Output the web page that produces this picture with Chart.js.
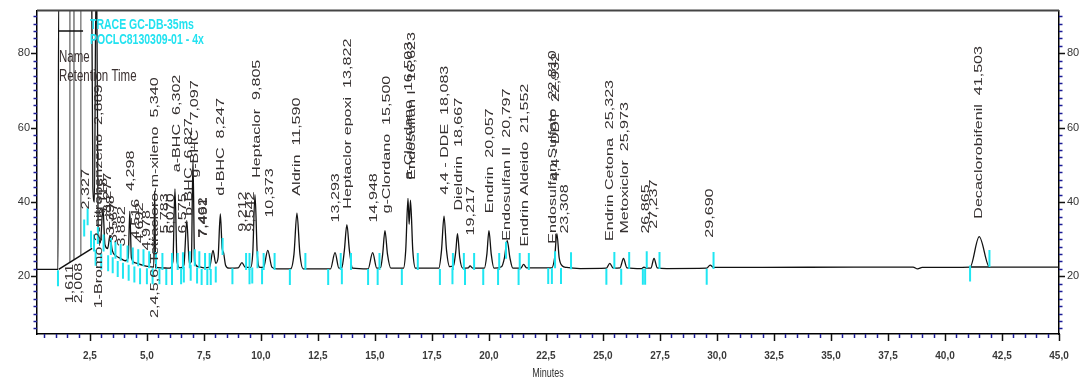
<!DOCTYPE html>
<html>
<head>
<meta charset="utf-8">
<script src="https://cdn.jsdelivr.net/npm/chart.js@4.4.1/dist/chart.umd.min.js"></script>
<style>
  html, body { margin: 0; padding: 0; background: #fff; }
  #wrap { width: 1084px; height: 377px; }
</style>
</head>
<body>
<div id="wrap"><canvas id="chromatogram"></canvas></div>
<script>
// axis ticks
const xTickValues = [2.5, 5, 7.5, 10, 12.5, 15, 17.5, 20, 22.5, 25, 27.5, 30, 32.5, 35, 37.5, 40, 42.5, 45];
const yTickValues = [20, 40, 60, 80];

// detector signal: [minutes, mV]
const tracePoints = [
  [0.18, 21.9], [1.10, 21.9], [1.13, 96], [2.58, 96], [2.63, 44], [2.70, 40], [2.76, 96], [2.80, 96],
  [2.86, 33], [2.96, 29], [3.07, 38.5], [3.16, 28.5], [3.28, 27.5], [3.38, 31], [3.48, 27], [3.65, 25.5],
  [3.85, 24.8], [4.05, 24.2], [4.18, 25], [4.25, 37.5], [4.32, 25], [4.5, 23.6], [4.8, 23], [5.1, 22.6],
  [5.30, 22.5], [5.34, 43], [5.38, 22.5], [5.6, 22.3], [6.0, 22.2], [6.14, 24], [6.23, 43.5], [6.32, 24],
  [6.45, 22.3], [6.62, 23], [6.75, 35], [6.86, 23.5], [6.95, 24], [7.02, 51.5], [7.09, 24], [7.25, 22.6],
  [7.5, 22.3], [7.75, 22.5], [7.9, 27], [8.02, 23.5], [8.12, 25], [8.22, 36.8], [8.30, 27.5], [8.36, 26.4],
  [8.45, 23], [8.6, 22.2], [9.0, 22.3], [9.17, 23.7], [9.3, 22.5], [9.55, 22.4], [9.64, 26], [9.74, 42],
  [9.84, 26], [9.95, 22.4], [10.12, 22.5], [10.3, 27], [10.48, 22.5], [10.7, 22], [11.3, 22], [11.45, 26],
  [11.58, 37], [11.71, 26], [11.85, 22], [13.05, 22], [13.25, 26.4], [13.42, 22.2], [13.55, 22.4], [13.66, 27],
  [13.77, 33.9], [13.88, 27], [14.02, 22.2], [14.7, 22], [14.9, 26.4], [15.08, 22.2], [15.25, 22.4], [15.34, 26],
  [15.44, 32.3], [15.55, 26], [15.7, 22.2], [16.25, 22.2], [16.35, 27], [16.45, 41], [16.5, 34], [16.56, 40.5],
  [16.66, 27], [16.78, 22.2], [17.8, 22.2], [17.92, 27], [18.03, 36.2], [18.14, 27], [18.28, 22.6], [18.45, 23],
  [18.55, 27], [18.62, 31.5], [18.72, 25], [18.85, 22.2], [19.1, 22.3], [19.17, 22.8], [19.3, 22.2], [19.8, 22.2],
  [19.91, 26], [20.0, 32.3], [20.1, 26], [20.22, 22.2], [20.55, 22.6], [20.68, 25], [20.8, 29.6], [20.92, 25],
  [21.05, 22.2], [21.4, 22.2], [21.52, 23.2], [21.65, 22.3], [22.75, 22.3], [22.88, 25], [22.98, 31.5], [23.08, 25],
  [23.22, 22.8], [23.4, 22.4], [24, 22.1], [25.15, 22.2], [25.3, 23.5], [25.45, 22.2], [25.75, 22.3], [25.9, 24.8],
  [26.05, 22.3], [26.7, 22.1], [26.8, 22.5], [26.9, 22.2], [27.1, 22.2], [27.24, 24.8], [27.38, 22.3], [27.8, 22.1],
  [29.55, 22.2], [29.7, 23], [29.85, 22.4], [32, 22.4], [36, 22.5], [38.6, 22.5], [38.8, 22.0], [39.0, 22.4],
  [41.1, 22.5], [41.5, 30.7], [41.95, 22.5], [45, 22.5]
];

// solvent front: clipped top, drop lines and the integration baseline
const solventTop = [[1.13, 86], [2.2, 86]];
const dropLines = [[1.62, 96], [1.62, 23.8], null, [1.80, 96], [1.80, 24.5], null, [2.10, 96], [2.10, 25.6]];
const solventBase = [[1.13, 21.9], [2.6, 27.5], null, [41.1, 22.5], [41.95, 22.5]];

// peak start (below) / end (above) markers: [minutes, centre]
const startMarks = [
  [1.1, 19.5], [2.75, 25], [3.0, 24], [3.3, 23.5], [3.5, 23], [3.72, 22], [3.95, 21.5], [4.2, 21], [4.45, 20.5],
  [4.7, 20], [5.0, 20], [5.25, 20], [5.55, 20], [5.85, 19.8], [6.1, 19.8], [6.5, 20], [6.62, 20.5], [6.92, 21],
  [7.2, 20.2], [7.4, 19.8], [7.65, 19.8], [7.8, 19.8], [8.02, 20.5], [8.75, 20], [9.5, 20], [9.62, 20.2],
  [10.05, 20], [11.27, 19.8], [12.95, 19.8], [13.55, 20], [14.7, 19.8], [15.12, 19.8], [16.18, 19.8],
  [17.85, 19.8], [18.4, 20], [18.95, 19.8], [19.75, 19.8], [20.4, 19.8], [21.3, 19.8], [22.6, 20.1],
  [22.76, 20.1], [23.16, 20.1], [25.15, 19.9], [25.8, 19.9], [26.75, 19.9], [26.85, 19.9], [29.55, 19.9], [41.1, 20.8]
];
const endMarks = [
  [2.25, 33], [2.4, 36], [2.55, 30], [2.68, 29], [2.85, 31], [3.1, 29], [3.42, 28], [3.62, 27], [3.85, 26.5],
  [4.15, 26], [4.38, 25.5], [4.62, 25], [4.85, 25], [5.1, 24.5], [5.4, 24.3], [5.68, 24], [6.1, 24], [6.35, 24],
  [6.58, 24.2], [6.88, 24.5], [7.1, 25], [7.3, 24.5], [7.55, 24], [7.75, 24], [8.32, 28], [9.35, 24], [9.5, 24],
  [9.85, 24.5], [10.12, 24], [10.6, 24], [11.95, 24], [13.5, 24], [13.95, 24], [15.2, 24], [16.88, 24],
  [18.42, 24], [18.9, 24], [19.35, 24], [20.45, 24], [20.75, 27], [21.35, 24], [21.75, 24], [22.9, 24.5],
  [23.6, 24.2], [25.5, 24.3], [26.15, 24.3], [26.92, 24.5], [27.48, 24.3], [29.85, 24.3], [41.95, 24.8]
];

// peak labels: name, retention time, where the text starts (mV)
const peakNames = [
  '', '', '', '1-Bromo-2-nitrobenzeno', '', '', '', '', '', '', '', '', '',
  '2,4,5,6-Tetracloro-m-xileno', '', '', 'a-BHC', '', 'b-BHC', 'g-BHC', '', '', 'd-BHC', '', '',
  'Heptaclor', '', 'Aldrin', '', 'Heptaclor epoxi', '', 'g-Clordano', 'a-Clordano', 'Endosulfan I',
  '4,4 - DDE', 'Dieldrin', '', 'Endrin', 'Endosulfan II', 'Endrin Aldeido', 'Endosulfan Sulfato',
  '4,4 - DDT', '', 'Endrin Cetona', 'Metoxiclor', '', '', '', 'Decaclorobifenil'
];
const peakRT = [
  '1,611', '2,008', '2,327', '2,889', '3,118', '3,277', '3,398', '3,567', '3,882', '4,298', '4,516', '4,692', '4,978',
  '5,340', '5,783', '6,070', '6,302', '6,575', '6,827', '7,097', '7,462', '7,491', '8,247', '9,212', '9,542',
  '9,805', '10,373', '11,590', '13,293', '13,822', '14,948', '15,500', '16,503', '16,623',
  '18,083', '18,667', '19,217', '20,057', '20,797', '21,552', '22,810',
  '22,932', '23,308', '25,323', '25,973', '26,865', '27,237', '29,690', '41,503'
];
const peakLabelBase = [
  12.8, 12.8, 38, 11.4, 36, 37, 31, 29, 28, 43, 30, 29, 27,
  8.8, 31.5, 31.5, 48, 31.5, 36.3, 46.5, 30.4, 30.4, 41.7, 32, 32,
  46.5, 35.8, 41.7, 34.5, 38.2, 34.5, 36.9, 46, 46,
  42, 37.7, 31, 37, 29.6, 28, 28.8,
  45.7, 31.5, 29.5, 31.5, 31.5, 32.8, 30.4, 35.5
];

const FONT = '"Liberation Sans", Arial, sans-serif';
const toXY = arr => arr.map(p => p ? { x: p[0], y: p[1] } : { x: NaN, y: null });
const noPad = s => { s.paddingTop = 0; s.paddingBottom = 0; };

const chromDecor = {
  id: 'chromDecor',
  afterDatasetsDraw(chart) {
    const { ctx, chartArea, scales: { x, y } } = chart;
    ctx.save();
    // peak labels, stretched along the text like the original print
    ctx.font = '11.5px ' + FONT;
    ctx.fillStyle = '#353030';
    ctx.textAlign = 'left';
    ctx.textBaseline = 'middle';
    peakRT.forEach((rt, i) => {
      const px = x.getPixelForValue(parseFloat(rt.replace(',', '.')));
      const py = y.getPixelForValue(peakLabelBase[i]);
      const text = peakNames[i] ? peakNames[i] + '  ' + rt : rt;
      ctx.save();
      ctx.translate(px, py);
      ctx.rotate(-Math.PI / 2);
      ctx.scale(1.4, 1);
      ctx.fillText(text, 0, 0);
      ctx.restore();
    });

    const hText = (text, tx, ty, font, color) => {
      ctx.save();
      ctx.font = font;
      ctx.fillStyle = color;
      ctx.textAlign = 'left';
      ctx.textBaseline = 'alphabetic';
      ctx.translate(tx, ty);
      ctx.scale(1, 1.4);
      ctx.fillText(text, 0, 0);
      ctx.restore();
    };
    hText('TRACE GC-DB-35ms', chartArea.left + 53, chartArea.top + 18, 'bold 10.5px ' + FONT, '#22e2f0');
    hText('POCLC8130309-01 - 4x', chartArea.left + 53, chartArea.top + 33, 'bold 10.5px ' + FONT, '#22e2f0');
    hText('Name', chartArea.left + 22, chartArea.top + 51, '11.5px ' + FONT, '#3a3030');
    hText('Retention Time', chartArea.left + 22, chartArea.top + 70, '11.5px ' + FONT, '#3a3030');
    ctx.restore();
  },
  afterDraw(chart) {
    const { ctx, chartArea: { left, right, top, bottom }, scales: { x, y } } = chart;
    ctx.save();
    // frame top
    ctx.strokeStyle = '#444';
    ctx.lineWidth = 2;
    ctx.beginPath();
    ctx.moveTo(left, top);
    ctx.lineTo(right, top);
    ctx.stroke();

    // x ticks
    ctx.lineWidth = 1.5;
    for (let k = 1; k <= 90; k++) {
      const v = k * 0.5;
      const px = Math.round(x.getPixelForValue(v)) + 0.5;
      const major = k % 5 === 0;
      ctx.strokeStyle = major ? '#111' : '#1c1c96';
      ctx.beginPath();
      ctx.moveTo(px, bottom);
      ctx.lineTo(px, bottom + (major ? 7 : 4));
      ctx.stroke();
    }
    // y ticks, both sides
    for (let v = 6; v <= 90; v += 2) {
      const py = Math.round(y.getPixelForValue(v)) + 0.5;
      const major = v % 20 === 0;
      ctx.strokeStyle = major ? '#111' : '#1c1c96';
      ctx.beginPath();
      ctx.moveTo(left, py);
      ctx.lineTo(left - (major ? 6 : 3.5), py);
      ctx.moveTo(right, py);
      ctx.lineTo(right + (major ? 6 : 3.5), py);
      ctx.stroke();
    }
    // axis title
    ctx.font = '9px ' + FONT;
    ctx.fillStyle = '#333';
    ctx.textAlign = 'center';
    ctx.translate((left + right) / 2, bottom + 43);
    ctx.scale(1, 1.4);
    ctx.fillText('Minutes', 0, 0);
    ctx.restore();
  }
};

const tickFmt = v => Number(v).toFixed(1).replace('.', ',');

new Chart(document.getElementById('chromatogram'), {
  type: 'line',
  data: {
    datasets: [
      {
        label: 'start',
        data: toXY(startMarks),
        showLine: false,
        pointStyle: 'line',
        rotation: 90,
        pointRadius: 8,
        pointHoverRadius: 8,
        pointBorderColor: '#1fe6f2',
        pointBorderWidth: 2
      },
      {
        label: 'end',
        data: toXY(endMarks),
        showLine: false,
        pointStyle: 'line',
        rotation: 90,
        pointRadius: 8.5,
        pointHoverRadius: 8.5,
        pointBorderColor: '#1fe6f2',
        pointBorderWidth: 2
      },
      {
        label: 'signal',
        data: toXY(tracePoints),
        borderColor: '#111',
        borderWidth: 1.3,
        pointRadius: 0,
        cubicInterpolationMode: 'monotone'
      },
      {
        label: 'baseline',
        data: toXY(solventBase).concat([{ x: NaN, y: null }], toXY(solventTop)),
        borderColor: '#111',
        borderWidth: 1.5,
        pointRadius: 0,
        spanGaps: false
      },
      {
        label: 'drops',
        data: toXY(dropLines),
        borderColor: '#8a8a8a',
        borderWidth: 1,
        pointRadius: 0,
        spanGaps: false
      }
    ]
  },
  options: {
    responsive: true,
    maintainAspectRatio: false,
    animation: false,
    events: [],
    layout: { padding: { top: 9, left: 0, right: 0, bottom: 0 } },
    plugins: {
      legend: { display: false },
      tooltip: { enabled: false }
    },
    scales: {
      x: {
        type: 'linear',
        min: 0.18,
        max: 45,
        afterBuildTicks: s => { s.ticks = xTickValues.map(v => ({ value: v })); },
        afterFit: s => { s.height = 43; s.paddingLeft = 0; s.paddingRight = 0; },
        grid: { display: false, drawTicks: false },
        border: { color: '#000', width: 1.5 },
        ticks: {
          callback: tickFmt,
          padding: 16,
          maxRotation: 0,
          autoSkip: false,
          color: '#3a3a3a',
          font: { family: FONT, size: 10, weight: 'bold' }
        }
      },
      y: {
        type: 'linear',
        position: 'left',
        min: 4.5,
        max: 91.5,
        afterBuildTicks: s => { s.ticks = yTickValues.map(v => ({ value: v })); },
        afterFit: s => { s.width = 37; noPad(s); },
        grid: { display: false, drawTicks: false },
        border: { color: '#000', width: 1.5 },
        ticks: { padding: 7, color: '#333', font: { family: FONT, size: 11 } }
      },
      y2: {
        type: 'linear',
        position: 'right',
        min: 4.5,
        max: 91.5,
        afterBuildTicks: s => { s.ticks = yTickValues.map(v => ({ value: v })); },
        afterFit: s => { s.width = 25; noPad(s); },
        grid: { display: false, drawTicks: false },
        border: { color: '#000', width: 1.5 },
        ticks: { padding: 8, color: '#333', font: { family: FONT, size: 11 } }
      }
    }
  },
  plugins: [chromDecor]
});
</script>
</body>
</html>
